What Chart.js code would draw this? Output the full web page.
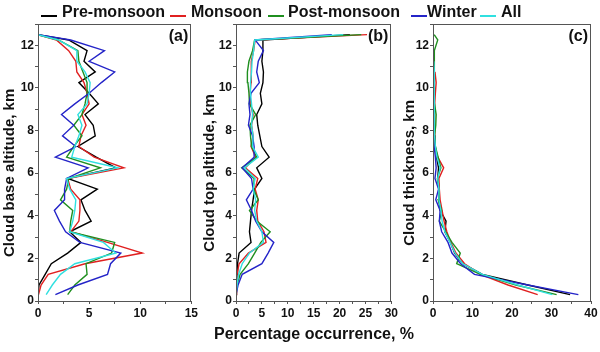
<!DOCTYPE html>
<html>
<head>
<meta charset="utf-8">
<script src="https://cdn.jsdelivr.net/npm/chart.js@4/dist/chart.umd.min.js"></script>
<style>
  body { margin: 0; background: #fff; font-family: "Liberation Sans", Arial, sans-serif; }
  #wrap { position: relative; width: 600px; height: 352px; overflow: hidden; }
  canvas { position: absolute; top: 0; }
  .leg-line { position: absolute; height: 2px; top: 15px; }
  .leg-txt { position: absolute; top: 3px; font-size: 16px; font-weight: bold; color: #111; line-height: 18px; }
  #xtitle { position: absolute; left: 0; width: 628px; top: 325px; text-align: center; font-size: 16px; font-weight: bold; color: #111; }
</style>
</head>
<body>
<div id="wrap">
  <canvas id="chartA" width="200" height="352" style="left:0"></canvas>
  <canvas id="chartB" width="200" height="352" style="left:200px"></canvas>
  <canvas id="chartC" width="200" height="352" style="left:400px"></canvas>
  <div id="legend"></div>
  <div id="xtitle">Percentage occurrence, %</div>
</div>
<script>
// altitude / thickness levels, km
const levels = [0.3, 0.75, 1.25, 1.75, 2.25, 2.75, 3.25, 3.75, 4.25, 4.75, 5.25, 5.75, 6.25,
                6.75, 7.25, 7.75, 8.25, 8.75, 9.25, 9.75, 10.25, 10.75, 11.25, 11.75, 12.25, 12.5];

const seasons = ['Pre-monsoon', 'Monsoon', 'Post-monsoon', 'Winter', 'All'];
const colors = ['#000000', '#e02020', '#1f8f1f', '#2424c8', '#30e0e0'];

// (a) cloud base altitude
const baseA = [
  [0, 0.1, 0.7, 1.3, 2.9, 4.2, 3.1, 5.2, 4.6, 4.2, 5.8, 2.9, 7.6, 5.7, 3.9, 5.6, 5.4, 4.6, 5.9, 5.0, 4.0, 5.6, 4.5, 4.8, 3.0, 0],
  [0.05, 0.3, 1.0, 4.6, 10.2, 6.8, 3.2, 4.0, 4.1, 4.1, 3.2, 2.9, 8.4, 5.5, 4.0, 4.2, 4.7, 4.3, 5.0, 4.8, 4.5, 3.8, 3.7, 3.0, 1.8, 0],
  [2.9, 3.6, 4.8, 4.7, 7.2, 7.5, 3.1, 3.2, 3.4, 2.2, 2.8, 3.0, 6.1, 2.8, 3.5, 4.3, 3.5, 4.3, 4.6, 4.8, 4.8, 4.4, 4.0, 3.9, 2.0, 0],
  [1.7, 3.9, 6.8, 7.1, 8.1, 4.1, 2.7, 2.1, 1.6, 2.6, 2.6, 2.8, 4.9, 1.7, 3.7, 2.4, 3.5, 2.3, 3.6, 5.0, 6.2, 7.5, 5.0, 6.5, 3.2, 0],
  [0.8, 1.4, 2.2, 3.6, 7.6, 6.4, 3.1, 3.4, 3.6, 3.7, 3.1, 2.8, 7.8, 3.3, 3.6, 4.0, 4.3, 3.9, 4.8, 5.0, 5.1, 4.6, 3.8, 3.8, 2.0, 0]
];

// (b) cloud top altitude
const topB = [
  [0, 0.1, 0.2, 0.3, 0.6, 2.9, 2.6, 2.8, 3.0, 3.3, 3.6, 5.0, 4.0, 6.4, 5.0, 4.6, 4.2, 4.0, 5.0, 4.7, 5.2, 5.3, 5.0, 5.2, 5.2, 22.0],
  [0, 0.1, 0.2, 0.6, 2.4, 5.8, 5.4, 4.2, 4.0, 4.3, 3.7, 4.2, 1.8, 3.8, 2.9, 3.3, 3.0, 3.3, 2.8, 2.7, 2.9, 2.9, 3.0, 3.4, 3.7, 25.3],
  [0, 0.2, 0.8, 2.4, 3.6, 4.8, 6.6, 4.0, 2.6, 4.3, 3.4, 3.5, 1.1, 4.0, 3.0, 2.8, 2.7, 3.8, 2.6, 2.5, 2.3, 2.2, 2.5, 3.2, 3.6, 24.2],
  [0, 0.4, 1.2, 5.0, 6.2, 7.3, 5.0, 3.8, 3.0, 2.0, 3.3, 3.0, 1.2, 3.5, 3.5, 3.2, 2.4, 2.7, 2.5, 2.9, 4.5, 4.0, 4.3, 5.3, 3.7, 18.5],
  [0, 0.2, 0.5, 1.2, 2.6, 5.3, 5.0, 4.0, 3.6, 3.8, 3.3, 3.7, 1.6, 4.3, 3.2, 3.3, 3.0, 3.2, 3.0, 2.8, 2.8, 3.0, 3.1, 3.4, 3.6, 20.7]
];

// (c) cloud thickness
const thickC = [
  [34.7, 24, 12.5, 7.5, 5.5, 4.4, 3.0, 3.3, 1.8, 1.5, 1.6, 1.2, 1.4, 0.9, 0.6, 0.5, 0.4, 0.4, 0.3, 0.3, 0.3, 0.3, 0.2, null, null, null],
  [26.5, 19, 12.0, 8.0, 5.8, 4.5, 3.5, 2.8, 2.3, 1.8, 1.6, 1.5, 2.7, 1.2, 0.5, 0.4, 0.5, 0.4, 0.4, 0.6, 0.8, 0.5, null, null, null, null],
  [31.3, 21, 12.0, 6.0, 6.9, 4.8, 3.2, 1.6, 2.2, 1.3, 1.5, 1.1, 2.0, 1.3, 0.6, 0.4, 0.7, 0.8, 0.4, 0.3, 0.3, 0.3, 0.3, 0.5, 1.2, 0.3],
  [36.8, 24, 10.5, 7.0, 4.8, 3.8, 2.2, 1.6, 1.8, 0.7, 1.4, 0.5, 0.8, 0.6, 0.3, 0.2, 0.2, 0.2, 0.2, 0.2, 0.2, 0.2, null, null, null, null],
  [30.2, 21.5, 12.5, 7.5, 5.6, 4.3, 3.0, 2.3, 2.0, 1.5, 1.5, 1.2, 1.8, 1.0, 0.6, 0.4, 0.4, 0.4, 0.3, 0.3, 0.3, 0.3, 0.2, null, null, null]
];

const tickFont = { family: 'Liberation Sans', size: 12, weight: 'bold' };

const framePlugin = {
  id: 'frame',
  afterDraw(chart, args, opts) {
    const { ctx, chartArea: a } = chart;
    ctx.save();
    ctx.strokeStyle = '#555';
    ctx.lineWidth = 1;
    ctx.strokeRect(Math.round(a.left) + 0.5, Math.round(a.top) + 0.5, Math.round(a.width) - 1, Math.round(a.height));
    ctx.fillStyle = '#111';
    ctx.font = 'bold 16px "Liberation Sans"';
    ctx.textAlign = 'right';
    ctx.textBaseline = 'middle';
    ctx.fillText(opts.tag, a.right - 3, a.top + 13);
    ctx.restore();
  }
};

function makePanel(id, table, xMax, xStep, labelEvery, yTitle, tag, yWidth, rightPad) {
  const datasets = table.map((vals, i) => ({
    label: seasons[i],
    data: vals.map((v, k) => ({ x: v, y: levels[k] })).filter(p => p.x !== null),
    borderColor: colors[i],
    borderWidth: 1.4,
    pointRadius: 0,
    showLine: true,
    fill: false,
    tension: 0,
    order: i === 4 ? 0 : 5 - i
  }));
  return new Chart(document.getElementById(id), {
    type: 'scatter',
    data: { datasets },
    plugins: [framePlugin],
    options: {
      responsive: false,
      animation: false,
      devicePixelRatio: 1,
      layout: { padding: { top: 24, right: rightPad, bottom: 31, left: 0 } },
      plugins: { legend: { display: false }, tooltip: { enabled: false }, frame: { tag } },
      scales: {
        x: {
          type: 'linear', min: 0, max: xMax,
          afterFit: s => { s.height = 20; },
          border: { display: true, color: '#555' },
          grid: { drawOnChartArea: false, drawTicks: true, tickLength: 3, color: '#555' },
          ticks: {
            stepSize: xStep, autoSkip: false, maxRotation: 0, padding: 2,
            color: '#111', font: tickFont,
            callback: v => (v % labelEvery === 0 ? v : '')
          }
        },
        y: {
          type: 'linear', min: 0, max: 13,
          afterFit: s => { s.width = yWidth; },
          border: { display: true, color: '#555' },
          grid: { drawOnChartArea: false, drawTicks: true, tickLength: 3, color: '#555' },
          // trailing spaces nudge the rotated title down a little, as in the original
          title: { display: true, text: yTitle + '     ', color: '#111', padding: { top: 1, bottom: 0 },
                   font: { family: 'Liberation Sans', size: 15, weight: 'bold' } },
          ticks: {
            stepSize: 1, autoSkip: false, padding: 1, color: '#111', font: tickFont,
            callback: v => (v % 2 === 0 ? v : '')
          }
        }
      }
    }
  });
}

makePanel('chartA', baseA, 15, 2.5, 5, 'Cloud base altitude, km', '(a)', 38, 4);
makePanel('chartB', topB, 30, 2.5, 5, 'Cloud top altitude, km', '(b)', 36, 7);
makePanel('chartC', thickC, 40, 5, 10, 'Cloud thickness, km', '(c)', 33, 9);

// legend across the top
const legendPos = [[41, 62], [170, 191], [268, 288], [411, 427], [480, 501]];
const legend = document.getElementById('legend');
seasons.forEach((s, i) => {
  const line = document.createElement('div');
  line.className = 'leg-line';
  line.style.left = legendPos[i][0] + 'px';
  line.style.width = '16px';
  line.style.background = colors[i];
  legend.appendChild(line);
  const txt = document.createElement('div');
  txt.className = 'leg-txt';
  txt.style.left = legendPos[i][1] + 'px';
  txt.textContent = s;
  legend.appendChild(txt);
});
</script>
</body>
</html>
